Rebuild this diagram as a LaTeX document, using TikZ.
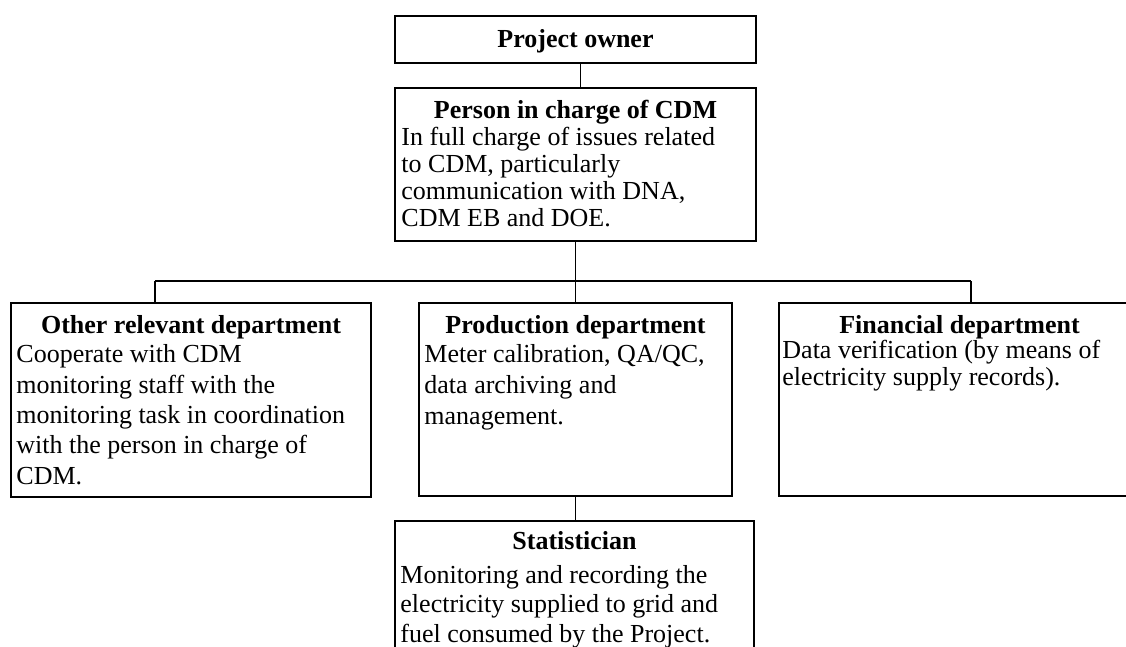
\documentclass[tikz,border=0pt]{standalone}
\usepackage{fontspec}
\setmainfont{Liberation Serif}
\usetikzlibrary{fit,calc}
\begin{document}
\begin{tikzpicture}[x=0.4615pt, y=-0.4615pt,
  box/.style={draw, line width=0.9pt, inner sep=0pt},
  link/.style={line width=0.9pt},
  ttl/.style={font=\fontsize{12}{14}\selectfont\bfseries, anchor=base, inner sep=0pt},
  body/.style={align=left, anchor=base west, inner sep=0pt}]
\useasboundingbox (0,0) rectangle (1126,646);
\clip (0,0) rectangle (1126,646);
% boxes
\node[box, fit={(395,16) (756,63)}] (po) {};
\node[box, fit={(395,88) (756,241)}] (pic) {};
\node[box, fit={(11,303) (371,497)}] (oth) {};
\node[box, fit={(419,303) (732,496)}] (prod) {};
\node[box, fit={(779,303) (1140,496)}] (fin) {};
\node[box, fit={(395,521) (754,670)}] (stat) {};
% titles
\node[ttl] (pot) at (575.5,47) {Project owner};
\node[ttl] (pict) at (575.5,118) {Person in charge of CDM};
\node[ttl] (otht) at (191,333) {Other relevant department};
\node[ttl] (prodt) at (575.5,333) {Production department};
\node[ttl] (fint) at (959.5,333) {Financial department};
\node[ttl] (statt) at (574.5,549) {Statistician};
% bodies (anchor = baseline of last line)
\node[body, font=\fontsize{12}{12.4}\selectfont] (picb) at (401,226)
  {In full charge of issues related\\to CDM, particularly\\communication with DNA,\\CDM EB and DOE.};
\node[body, font=\fontsize{12}{14}\selectfont] (othb) at (16,484)
  {Cooperate with CDM\\monitoring staff with the\\monitoring task in coordination\\with the person in charge of\\CDM.};
\node[body, font=\fontsize{12}{14.1}\selectfont] (prodb) at (424,424)
  {Meter calibration, QA/QC,\\data archiving and\\management.};
\node[body, font=\fontsize{12}{12.4}\selectfont] (finb) at (782,385)
  {Data verification (by means of\\electricity supply records).};
\node[body, font=\fontsize{12}{13.4}\selectfont] (statb) at (400,642)
  {Monitoring and recording the\\electricity supplied to grid and\\fuel consumed by the Project.};
% connectors
\coordinate (busL) at (155,281);
\coordinate (busR) at (971,281);
\draw[link] ($(po.south)+(5,0)$) -- ($(pic.north)+(5,0)$);
\draw[link] (pic.south) -- (pic.south |- busL);
\draw[link] (busL) -- (busR);
\draw[link] (busL) -- (busL |- oth.north);
\draw[link] (prod.north |- busL) -- (prod.north);
\draw[link] (busR) -- (busR |- fin.north);
\draw[link] (prod.south) -- (prod.south |- stat.north);
\end{tikzpicture}
\end{document}
